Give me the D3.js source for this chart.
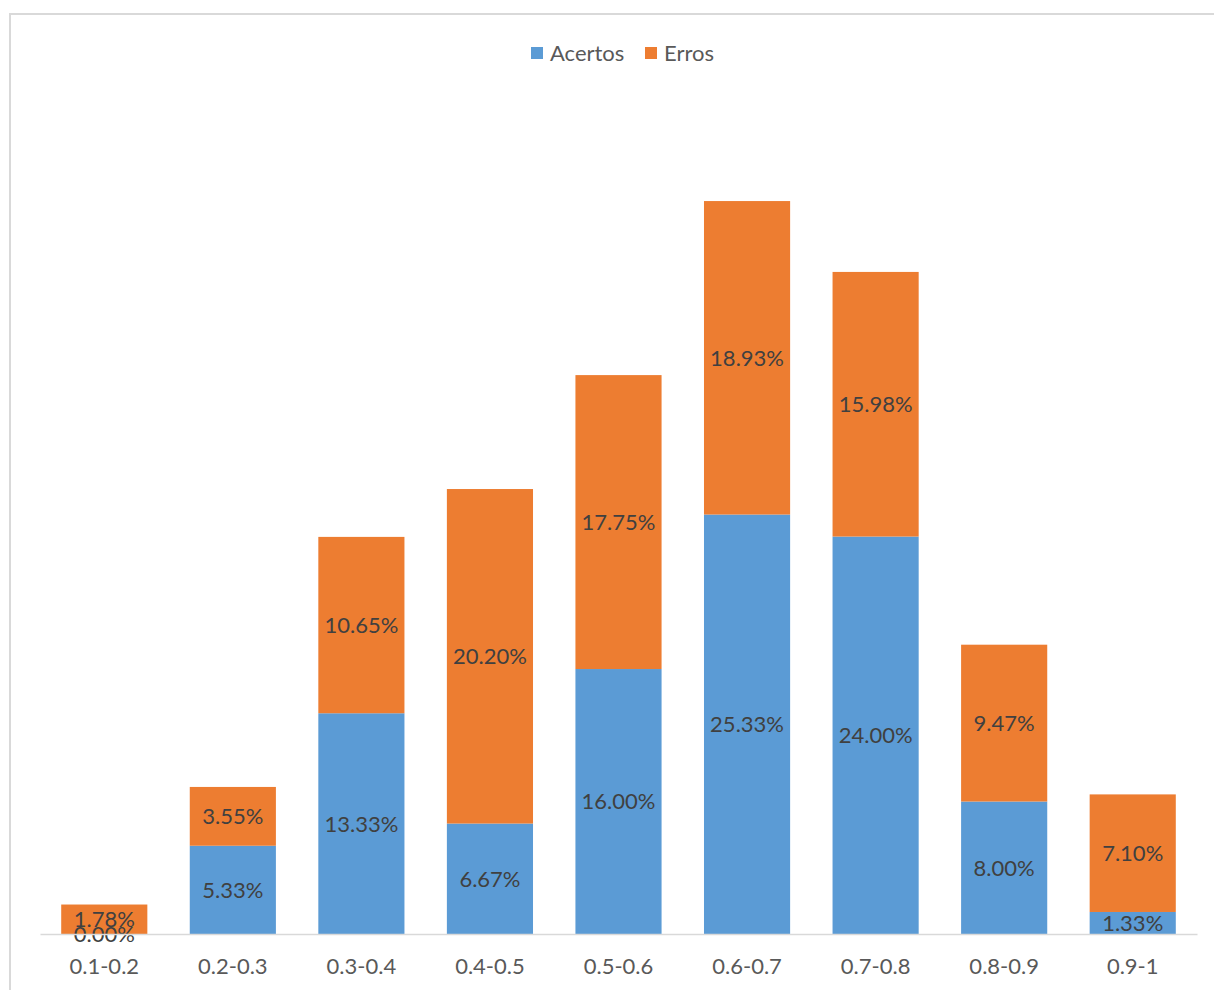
<!DOCTYPE html>
<html><head><meta charset="utf-8">
<script src="https://cdn.jsdelivr.net/npm/d3@7"></script>
<style>body{margin:0;background:#fff}svg{display:block}text{font-family:Lato,"Open Sans",sans-serif}</style>
</head><body><svg id="c" width="1214" height="990"></svg>
<script>
const categories = ["0.1-0.2","0.2-0.3","0.3-0.4","0.4-0.5","0.5-0.6","0.6-0.7","0.7-0.8","0.8-0.9","0.9-1"];
const acertos = [0.00, 5.33, 13.33, 6.67, 16.00, 25.33, 24.00, 8.00, 1.33];
const erros = [1.78, 3.55, 10.65, 20.20, 17.75, 18.93, 15.98, 9.47, 7.10];
const seriesNames = ["Acertos","Erros"];
const colors = ["#5B9BD5","#ED7D31"];
const yMax = 50;

const svg = d3.select("#c");
svg.append("rect").attr("x",10).attr("y",14).attr("width",1220).attr("height",1000)
  .attr("fill","#fff").attr("stroke","#d9d9d9").attr("stroke-width",2);

const x = d3.scaleBand().domain(categories).range([40,1197]).paddingInner(0.33).paddingOuter(0.165);
const y = d3.scaleLinear().domain([0,yMax]).range([934,106]);

const rows = categories.map((c,i)=>({cat:c, Acertos:acertos[i], Erros:erros[i]}));
const stacked = d3.stack().keys(seriesNames)(rows);

stacked.forEach((s,si)=>{
  const g = svg.append("g");
  g.selectAll("rect").data(s).join("rect")
    .attr("x",d=>x(d.data.cat)).attr("width",x.bandwidth())
    .attr("y",d=>y(d[1])).attr("height",d=>y(d[0])-y(d[1]))
    .attr("fill",colors[si]);
});
stacked.forEach((s,si)=>{
  svg.append("g").selectAll("text").data(s).join("text")
    .attr("x",d=>x(d.data.cat)+x.bandwidth()/2)
    .attr("y",d=>(y(d[0])+y(d[1]))/2)
    .attr("dy","0.36em").attr("text-anchor","middle")
    .attr("font-size",22).attr("fill","#404040")
    .text(d=>(d[1]-d[0]).toFixed(2)+"%");
});

const axis = svg.append("g").attr("transform","translate(0,934)")
  .call(d3.axisBottom(x).tickSize(0).tickPadding(24));
axis.select(".domain").attr("stroke","#d9d9d9").attr("stroke-width",1.5);
axis.selectAll("text").attr("font-size",22).attr("fill","#595959").attr("font-family","Lato,'Open Sans',sans-serif");

const leg = svg.append("g");
const legX = [531, 645];
seriesNames.forEach((n,i)=>{
  leg.append("rect").attr("x",legX[i]).attr("y",47).attr("width",12).attr("height",12).attr("fill",colors[i]);
  leg.append("text").attr("x",legX[i]+19).attr("y",53).attr("dy","0.36em")
    .attr("font-size",22).attr("fill","#595959").text(n);
});
</script></body></html>
